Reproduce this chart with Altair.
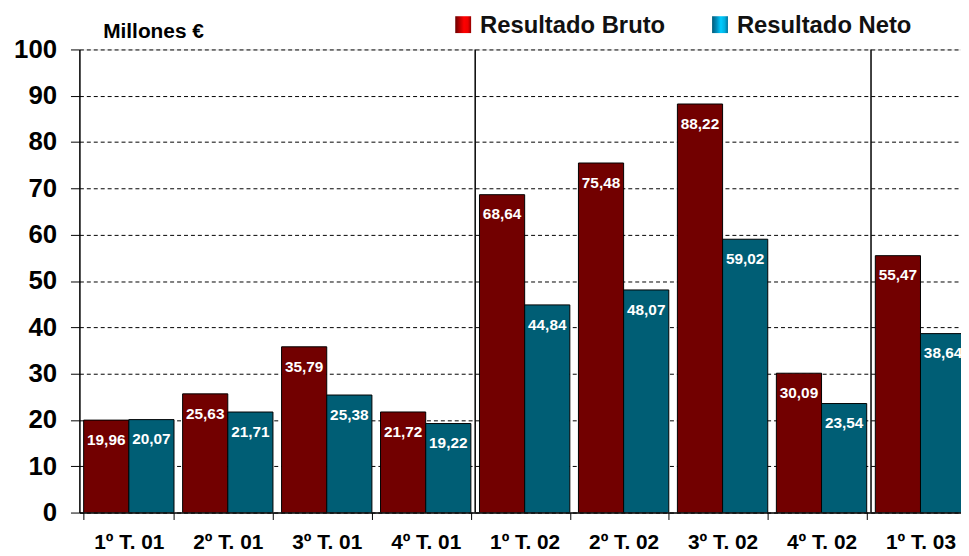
import altair as alt
import pandas as pd

categories = ["1º T. 01", "2º T. 01", "3º T. 01", "4º T. 01", "1º T. 02",
              "2º T. 02", "3º T. 02", "4º T. 02", "1º T. 03"]
bruto = [19.96, 25.63, 35.79, 21.72, 68.64, 75.48, 88.22, 30.09, 55.47]
neto = [20.07, 21.71, 25.38, 19.22, 44.84, 48.07, 59.02, 23.54, 38.64]
series_names = ["Resultado Bruto", "Resultado Neto"]
separators = ["1º T. 02", "1º T. 03"]
y_ticks = list(range(0, 101, 10))
unit_label = "Millones €"

FONT = "Liberation Sans"
BRUTO_C = "#720000"
NETO_C = "#005E75"

rows = []
for c, b, n in zip(categories, bruto, neto):
    rows.append({"cat": c, "serie": series_names[0], "v": b,
                 "lab": f"{b:.2f}".replace(".", ",")})
    rows.append({"cat": c, "serie": series_names[1], "v": n,
                 "lab": f"{n:.2f}".replace(".", ",")})
df = pd.DataFrame(rows)

xscale = alt.Scale(domain=categories, paddingInner=0.087, paddingOuter=0.043,
                   rangeMax=898)
x = alt.X("cat:N", scale=xscale, sort=categories, title=None,
          axis=alt.Axis(labelAngle=0, labelFont=FONT, labelFontSize=21,
                        labelFontWeight="bold", labelColor="black",
                        labelPadding=12, tickSize=7, tickColor="black",
                        tickBand="extent", domainColor="black",
                        domainWidth=1.5, grid=False))
xo = alt.XOffset("serie:N", scale=alt.Scale(domain=series_names))
y = alt.Y("v:Q", scale=alt.Scale(domain=[0, 100], nice=False), title=None,
          axis=alt.Axis(values=y_ticks, labelFont=FONT, labelFontSize=26,
                        labelFontWeight="bold", labelColor="black",
                        labelPadding=14, tickSize=9, tickColor="black",
                        domainColor="black", domainWidth=1.5,
                        grid=True, gridColor="black", gridDash=[4, 3],
                        gridOpacity=1, gridWidth=1))
color = alt.Color("serie:N", scale=alt.Scale(domain=series_names,
                                             range=[BRUTO_C, NETO_C]),
                  legend=None)

base = alt.Chart(df)
bars = base.mark_bar(stroke="black", strokeWidth=1, clip=True).encode(
    x=x, xOffset=xo, y=y, color=color)
labels = base.mark_text(color="white", font=FONT, fontSize=15.5,
                        fontWeight="bold", dy=20, baseline="middle",
                        clip=True).encode(
    x=alt.X("cat:N", scale=xscale, sort=categories), xOffset=xo,
    y=alt.Y("v:Q"), text="lab:N")

sep_df = pd.DataFrame({"cat": separators})
seps = alt.Chart(sep_df).mark_rule(color="black", strokeWidth=1.5,
                                   xOffset=-4.34).encode(
    x=alt.X("cat:N", scale=xscale, sort=categories, bandPosition=0))

def grad(stops):
    return alt.Gradient(gradient="linear", x1=0, x2=1, y1=0, y2=0,
                        stops=[alt.GradientStop(offset=o, color=c) for o, c in stops])

red_grad = grad([(0, "#6a0000"), (0.25, "#b00000"), (0.55, "#ff0000"),
                 (0.8, "#f00000"), (1, "#900000")])
blue_grad = grad([(0, "#005a78"), (0.3, "#0090c0"), (0.55, "#00ccff"),
                  (0.8, "#00b0e0"), (1, "#007099")])

leg_df = pd.DataFrame({"name": series_names})
sw1 = alt.Chart(leg_df.iloc[[0]]).mark_rect(fill=red_grad).encode(
    x=alt.value(379), x2=alt.value(395), y=alt.value(-33.5), y2=alt.value(-16.5))
sw2 = alt.Chart(leg_df.iloc[[1]]).mark_rect(fill=blue_grad).encode(
    x=alt.value(638), x2=alt.value(654), y=alt.value(-33.5), y2=alt.value(-16.5))
lt1 = alt.Chart(leg_df.iloc[[0]]).mark_text(
    font=FONT, fontSize=24, fontWeight="bold", align="left",
    baseline="alphabetic", color="#111").encode(
    x=alt.value(404), y=alt.value(-16.5), text="name:N")
lt2 = alt.Chart(leg_df.iloc[[1]]).mark_text(
    font=FONT, fontSize=24, fontWeight="bold", align="left",
    baseline="alphabetic", color="#111").encode(
    x=alt.value(663), y=alt.value(-16.5), text="name:N")

unit_df = pd.DataFrame({"t": [unit_label]})
unit = alt.Chart(unit_df).mark_text(
    font=FONT, fontSize=21, fontWeight="bold", align="left",
    baseline="alphabetic", color="black").encode(
    x=alt.value(24), y=alt.value(-11.5), text="t:N")

chart = alt.layer(bars, labels, seps, sw1, sw2, lt1, lt2, unit).properties(
    width=889, height=467,
    autosize=alt.AutoSizeParams(type="none"),
    padding={"left": 72, "top": 39.5, "right": 0, "bottom": 40},
).configure_view(strokeWidth=0).configure(background="white")

chart.save("out.html", embed_options={"renderer": "svg", "actions": False})
